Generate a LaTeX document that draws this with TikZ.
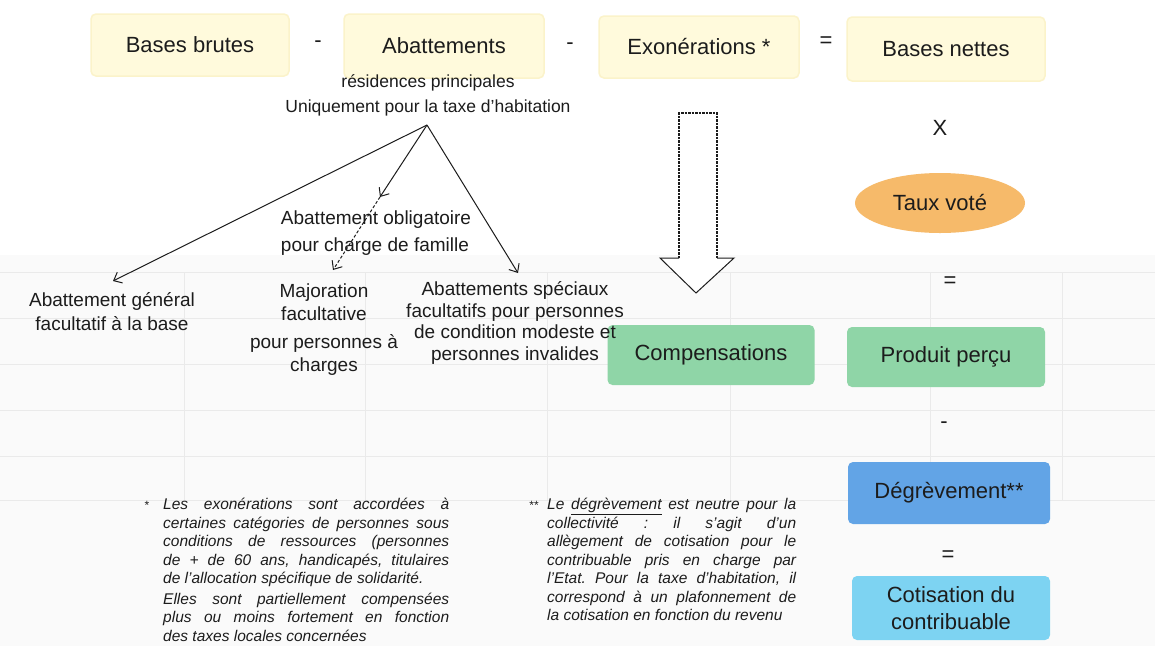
\documentclass[tikz,border=0pt]{standalone}
\usepackage{fontspec}
\setmainfont{Liberation Sans}
\usetikzlibrary{arrows.meta,shapes.geometric}

\definecolor{paleyellow}{HTML}{FFFADC}
\definecolor{yellowedge}{HTML}{FBF3CA}
\definecolor{mint}{HTML}{8FD5A7}
\definecolor{apricot}{HTML}{F6BA6A}
\definecolor{skyblue}{HTML}{62A4E6}
\definecolor{aqua}{HTML}{7DD3F2}
\definecolor{ink}{HTML}{1C1C1C}
\definecolor{faintrule}{HTML}{EAEAEA}

\newlength\noteAwidth
\setlength\noteAwidth{286pt}
\newlength\noteBwidth
\setlength\noteBwidth{249pt}

\begin{document}
\frenchspacing
\begin{tikzpicture}[x=1pt,y=-1pt,
  every node/.style={text=ink},
  termbox/.style={rounded corners=5pt, minimum width=198pt, minimum height=62pt,
    font=\fontsize{22}{26}\selectfont, inner sep=0pt, align=center},
  basebox/.style={termbox, fill=paleyellow, draw=yellowedge, line width=1.5pt},
  greenbox/.style={termbox, fill=mint},
  bluebox/.style={termbox, fill=skyblue},
  aquabox/.style={termbox, fill=aqua},
  op/.style={font=\fontsize{22}{26}\selectfont, inner sep=0pt},
  lbl/.style={font=\fontsize{19}{23}\selectfont, align=center, inner sep=0pt},
  branch/.style={-{Straight Barb[length=7pt,width=12pt]}, line width=1pt, draw=ink},
  note/.style={font=\fontsize{15.5}{18.5}\selectfont\itshape, align=left,
    inner sep=0pt, anchor=north west},
]
\useasboundingbox (0,0) rectangle (1155,646);
\fill[white] (0,0) rectangle (1155,646);

% faint table showing through the paper
\fill[black!2] (0,255) rectangle (1155,646);
\foreach \yy in {272,318,364,410,456,500}
  \draw[faintrule, line width=1pt] (0,\yy) -- (1155,\yy);
\foreach \xx in {184,365,547,730,930,1062}
  \draw[faintrule, line width=1pt] (\xx,272) -- (\xx,500);

% top equation
\node[basebox] (brutes) at (190,45) {Bases brutes};
\node[op] (minusA) at (318,44) {-};
\node[basebox, minimum width=200pt, minimum height=64pt] (abat) at (444,46) {Abattements};
\node[op] (minusB) at (570,46) {-};
\node[basebox, minimum width=200pt] (exon) at (699,47) {Exonérations *};
\node[op] (eqA) at (826,42) {=};
\node[basebox, minimum height=64pt] (nettes) at (946,49) {Bases nettes};

% right-hand column
\node[op] (times) at (940,128) {X};
\node[ellipse, fill=apricot, minimum width=170pt, minimum height=60pt,
  font=\fontsize{22}{26}\selectfont, inner sep=0pt] (taux) at (940,203) {Taux voté};
\node[op] (eqB) at (950,282) {=};
\node[greenbox, minimum height=60pt] (produit) at (946,357) {Produit perçu};
\node[op] (minusC) at (944,425) {-};
\node[bluebox, minimum width=202pt] (degrev) at (949,493) {Dégrèvement**};
\node[op] (eqC) at (948,556) {=};
\node[aquabox, minimum height=64pt, font=\fontsize{22}{27}\selectfont] (cotis) at (951,608) {Cotisation du\\contribuable};

% compensations
\node[greenbox, minimum width=207pt, minimum height=60pt] (comp) at (711,355) {Compensations};
\draw[white, fill=white] (679,258) -- (679,113) -- (717,113) -- (717,258)
  -- (734,258) -- (696,293) -- (660,258) -- cycle;
\draw[ink, line width=1.2pt, dash pattern=on 2.5pt off 1pt]
  (679,258) -- (679,113) -- (717,113) -- (717,258);
\draw[ink, line width=1pt, line join=miter]
  (679,258) -- (660,258) -- (696,293) -- (734,258) -- (717,258);

% abatements detail
\node[lbl, font=\fontsize{17.5}{25}\selectfont] (scope) at (428,95) {résidences principales\\Uniquement pour la taxe d'habitation};
\coordinate (apex) at (427,125);
\node[lbl, font=\fontsize{19}{24}\selectfont] (general) at (112,312) {Abattement général\\facultatif à la base};
\node[lbl, align=left, font=\fontsize{19}{27}\selectfont] (oblig) at (376,233) {Abattement obligatoire\\pour charge de famille};
\node[lbl] (major) at (324,330) {Majoration\\facultative\\[5pt]pour personnes à\\charges};
\node[lbl, font=\fontsize{19}{21.5}\selectfont] (special) at (515,323) {Abattements spéciaux\\facultatifs pour personnes\\de condition modeste et\\personnes invalides};

\coordinate (generaltip) at (113,281);
\coordinate (obligtip) at (380,197);
\coordinate (majortip) at (333,270);
\coordinate (specialtip) at (518,273);
\draw[branch] (apex) -- (generaltip);
\draw[branch] (apex) -- (obligtip);
\draw[branch, dash pattern=on 3pt off 2pt] (obligtip) -- (majortip);
\draw[branch] (apex) -- (specialtip);

% footnotes
\node[font=\fontsize{12}{12}\selectfont, inner sep=0pt] (starA) at (147,505) {*};
\node[note] (noteA) at (163,498) {%
\makebox[\noteAwidth][s]{Les exonérations sont accordées à}\\
\makebox[\noteAwidth][s]{certaines catégories de personnes sous}\\
\makebox[\noteAwidth][s]{conditions de ressources (personnes}\\
\makebox[\noteAwidth][s]{de + de 60 ans, handicapés, titulaires}\\
de l'allocation spécifique de solidarité.\\[2pt]
\makebox[\noteAwidth][s]{Elles sont partiellement compensées}\\
\makebox[\noteAwidth][s]{plus ou moins fortement en fonction}\\
des taxes locales concernées};

\node[font=\fontsize{12}{12}\selectfont, inner sep=0pt] (starB) at (534,505) {**};
\node[note] (noteB) at (547,498) {%
\makebox[\noteBwidth][s]{Le \underline{dégrèvement} est neutre pour la}\\
\makebox[\noteBwidth][s]{collectivité : il s'agit d'un}\\
\makebox[\noteBwidth][s]{allègement de cotisation pour le}\\
\makebox[\noteBwidth][s]{contribuable pris en charge par}\\
\makebox[\noteBwidth][s]{l'Etat. Pour la taxe d'habitation, il}\\
\makebox[\noteBwidth][s]{correspond à un plafonnement de}\\
la cotisation en fonction du revenu};
\end{tikzpicture}
\end{document}
